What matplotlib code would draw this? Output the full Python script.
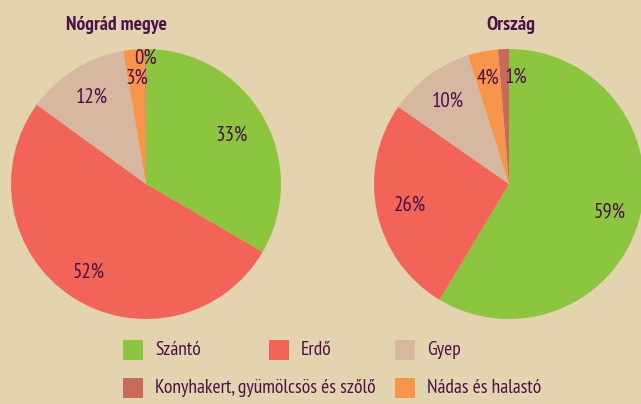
import matplotlib
matplotlib.use("Agg")
import matplotlib.pyplot as plt
from matplotlib.patches import Rectangle

# categories in the order they go round the pie (clockwise from 12 o'clock)
categories = ["Szántó", "Erdő", "Gyep", "Nádas és halastó",
              "Konyhakert, gyümölcsös és szőlő"]
nograd_values = [33.4, 51.6, 12.3, 2.6, 0.1]
orszag_values = [58.6, 26.1, 10.4, 3.6, 1.3]
titles = ["Nógrád megye", "Ország"]

colors = ["#8cc63f", "#f26457", "#d6b8a1", "#f7954a", "#c9695a"]
bg = "#e3d3ae"
txt = "#4a1249"
plt.rcParams["font.family"] = ["PT Sans Narrow", "DejaVu Sans"]

fig = plt.figure(figsize=(6.41, 4.04), dpi=100, facecolor=bg)
W, H = 641, 404

def pie_at(cx, cy, r, vals, label_dist, label_ha):
    ax = fig.add_axes([(cx - r) / W, (H - cy - r) / H, 2 * r / W, 2 * r / H])
    ax.set_facecolor("none")
    wedges, _, autotexts = ax.pie(vals, colors=colors, startangle=90,
                                  counterclock=False, radius=1,
                                  autopct=lambda p: "%d%%" % round(p),
                                  pctdistance=0.77,
                                  wedgeprops=dict(linewidth=0))
    for t, d, ha in zip(autotexts, label_dist, label_ha):
        x, y = t.get_position()
        t.set_position((x * d / 0.77, y * d / 0.77))
        t.set_ha(ha)
        t.set_color(txt)
        t.set_fontsize(15)
    ax.set_xlim(-1, 1)
    ax.set_ylim(-1, 1)
    ax.axis("off")
    return ax

pie_at(146, 184, 135, nograd_values, [0.73, 0.78, 0.76, 0.79, 0.93],
       ["center"] * 5)
pie_at(509, 184, 135, orszag_values, [0.77, 0.75, 0.76, 0.80, 0.79],
       ["center"] * 4 + ["left"])

fig.text(116 / W, 1 - 25 / H, titles[0], ha="center", va="center",
         color=txt, fontsize=14, fontweight="bold")
fig.text(511 / W, 1 - 25 / H, titles[1], ha="center", va="center",
         color=txt, fontsize=14.5, fontweight="bold")

# legend: two rows, hand placed like the original
legend_slots = [(123, 350), (269, 350), (395, 350), (123, 388), (395, 388)]
legend_order = [0, 1, 2, 4, 3]
for (lx, ly), i in zip(legend_slots, legend_order):
    fig.add_artist(Rectangle((lx / W, 1 - (ly + 10) / H), 20 / W, 20 / H,
                             transform=fig.transFigure, color=colors[i],
                             linewidth=0))
    fig.text((lx + 32) / W, 1 - ly / H, categories[i], ha="left",
             va="center", color=txt, fontsize=14)

fig.savefig("out.png", dpi=100, facecolor=bg)
